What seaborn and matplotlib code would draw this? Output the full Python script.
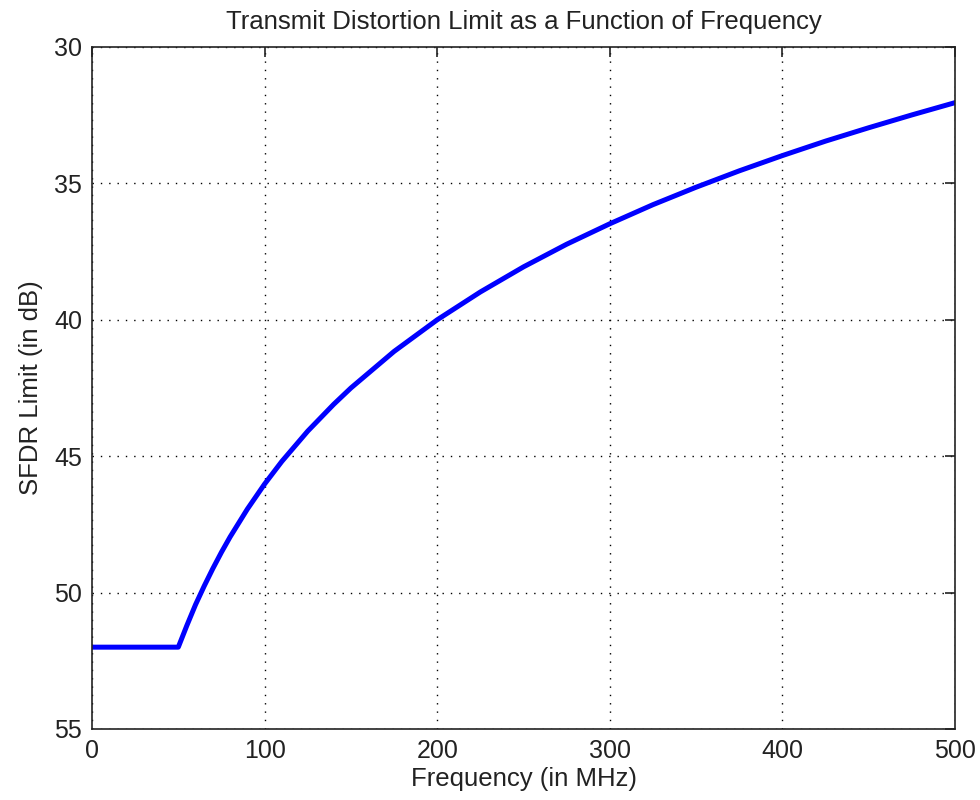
import matplotlib
matplotlib.use("Agg")
import matplotlib.pyplot as plt
import seaborn as sns
import pandas as pd

freq_mhz = [0, 50, 55, 60, 65, 70, 75, 80, 90, 100, 110, 125, 140, 150, 175, 200,
            225, 250, 275, 300, 325, 350, 375, 400, 425, 450, 475, 500]
sfdr_db = [52.0, 52.0, 51.2, 50.44, 49.76, 49.12, 48.52, 47.96, 46.94, 46.02, 45.19, 44.08, 43.1, 42.5,
           41.16, 40.0, 38.98, 38.06, 37.23, 36.48, 35.78, 35.14, 34.54, 33.98, 33.45, 32.96, 32.49, 32.04]
x_ticks = [0, 100, 200, 300, 400, 500]
y_ticks = [30, 35, 40, 45, 50, 55]

sns.set_theme(style="white")
plt.rcParams['font.family'] = ['Liberation Sans', 'DejaVu Sans']

df = pd.DataFrame({"freq": freq_mhz, "sfdr": sfdr_db})

fig = plt.figure(figsize=(9.8, 8.0), dpi=100)
ax = fig.add_axes([92/980, 1-729/800, (955-92)/980, (729-47)/800])

sns.lineplot(data=df, x="freq", y="sfdr", ax=ax, color="#0000ff", linewidth=3.6)

ax.set_xlim(0, 500)
ax.set_ylim(55, 30)
ax.set_xticks(x_ticks)
ax.set_yticks(y_ticks)
ax.grid(True, color="black", linestyle=(0, (1, 5)), linewidth=1.0)
ax.tick_params(direction="in", top=True, right=True, length=7, width=1.2,
               labelsize=18, colors="#222222", pad=7)
for s in ax.spines.values():
    s.set_color("#222222")
    s.set_linewidth(1.2)
    s.set_visible(True)

ax.set_title("Transmit Distortion Limit as a Function of Frequency", fontsize=18.5, color="#222222", pad=13)
ax.set_xlabel("Frequency (in MHz)", fontsize=18.5, color="#222222", labelpad=3)
ax.set_ylabel("SFDR Limit (in dB)", fontsize=18.5, color="#222222", labelpad=8)

fig.savefig("out.png", dpi=100, facecolor="white")
